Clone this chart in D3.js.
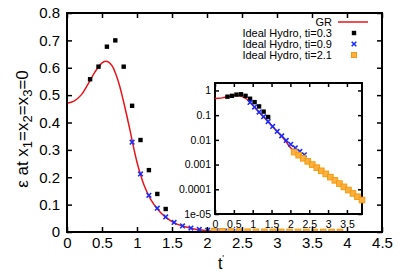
<!DOCTYPE html>
<html>
<head>
<meta charset="utf-8">
<script src="https://cdn.jsdelivr.net/npm/d3@7"></script>
<style>
  body { margin: 0; background: #fff; }
  svg { display: block; font-family: "Liberation Sans", Arial, sans-serif; }
  .frame { fill: none; stroke: #000; stroke-width: 2; }
  .axis path.domain { display: none; }
  .axis line { stroke: #000; stroke-width: 1.5; }
</style>
</head>
<body>
<svg id="chart" width="399" height="279"></svg>
<script>
// GR reference curve
var grT = [0, 0.1, 0.2, 0.3, 0.4, 0.5, 0.55, 0.6, 0.65, 0.7, 0.75, 0.8, 0.85, 0.9, 0.95, 1.0,
  1.05, 1.1, 1.2, 1.3, 1.4, 1.5, 1.6, 1.7, 1.8, 1.9, 2.0, 2.1, 2.2, 2.4, 2.6, 2.8, 3.0,
  3.2, 3.4, 3.6, 3.8, 3.9];
var grE = [0.47, 0.478, 0.50, 0.54, 0.585, 0.618, 0.624, 0.62, 0.605, 0.575, 0.535, 0.485,
  0.43, 0.372, 0.31, 0.255, 0.21, 0.172, 0.117, 0.081, 0.056, 0.038, 0.026, 0.018, 0.0122,
  0.0078, 0.0049, 0.0034, 0.0025, 0.0015, 0.00093, 0.00057, 0.00035, 0.000215, 0.00013,
  0.00008, 0.000049, 0.000038];

// ideal hydro runs
var blackT = [0.33, 0.45, 0.57, 0.69, 0.81, 0.93, 1.05, 1.17, 1.29, 1.41];
var blackE = [0.558, 0.604, 0.677, 0.70, 0.604, 0.461, 0.336, 0.226, 0.139, 0.084];

var blueT = [0.93, 1.05, 1.17, 1.29, 1.41, 1.53, 1.65, 1.77, 1.89, 2.01, 2.13, 2.25, 2.37];
var blueE = [0.328, 0.212, 0.134, 0.087, 0.055, 0.035, 0.022, 0.0145, 0.0095, 0.0066,
  0.0047, 0.0034, 0.0025];

var orangeT = [2.10, 2.22, 2.34, 2.46, 2.58, 2.70, 2.82, 2.94, 3.06, 3.18, 3.30, 3.42,
  3.54, 3.66, 3.78, 3.90];
var orangeE = [3.2e-3, 2.4e-3, 1.8e-3, 1.35e-3, 1.0e-3, 7.5e-4, 5.6e-4, 4.2e-4, 3.1e-4,
  2.3e-4, 1.7e-4, 1.25e-4, 9.3e-5, 6.8e-5, 5.0e-5, 3.7e-5];

var xTicks = [0, 0.5, 1, 1.5, 2, 2.5, 3, 3.5, 4, 4.5];
var yTicks = [0, 0.1, 0.2, 0.3, 0.4, 0.5, 0.6, 0.7, 0.8];
var insetXTicks = [0, 0.5, 1, 1.5, 2, 2.5, 3, 3.5];
var insetYTicks = [1, 0.1, 0.01, 0.001, 0.0001, 0.00001];
var insetYLabels = ['1', '0.1', '0.01', '0.001', '0.0001', '1e-05'];

var legendLabels = ['GR', 'Ideal Hydro, ti=0.3', 'Ideal Hydro, ti=0.9', 'Ideal Hydro, ti=2.1'];

function zip(ts, es) {
  return ts.map(function (t, i) { return { t: t, e: es[i] }; });
}
var gr = zip(grT, grE);
var black = zip(blackT, blackE);
var blue = zip(blueT, blueE);
var orange = zip(orangeT, orangeE);

var svg = d3.select('#chart');
svg.append('rect').attr('width', 399).attr('height', 279).attr('fill', '#fff');

var x = d3.scaleLinear().domain([0, 4.5]).range([67, 382]);
var y = d3.scaleLinear().domain([0, 0.8]).range([232, 13]);

svg.append('clipPath').attr('id', 'main-clip')
  .append('rect').attr('x', 67).attr('y', 13).attr('width', 315).attr('height', 219);

function drawAxes(g, xs, ys, opt) {
  var xr = xs.range(), yr = ys.range();
  g.append('g').attr('class', 'axis').attr('transform', 'translate(0,' + yr[0] + ')')
    .call(d3.axisBottom(xs).tickValues(opt.xTicks).tickSize(-opt.tick).tickPadding(opt.xPad)
      .tickFormat(opt.xFormat))
    .selectAll('text').attr('font-size', opt.font).attr('fill', '#000')
    .attr('font-family', 'Liberation Sans, Arial, sans-serif');
  g.append('g').attr('class', 'axis').attr('transform', 'translate(0,' + yr[1] + ')')
    .call(d3.axisTop(xs).tickValues(opt.xTicks).tickSize(-opt.tick).tickFormat(''));
  g.append('g').attr('class', 'axis').attr('transform', 'translate(' + xr[0] + ',0)')
    .call(d3.axisLeft(ys).tickValues(opt.yTicks).tickSize(-opt.tick).tickPadding(opt.yPad)
      .tickFormat(opt.yFormat))
    .selectAll('text').attr('font-size', opt.font).attr('fill', '#000')
    .attr('font-family', 'Liberation Sans, Arial, sans-serif');
  g.append('g').attr('class', 'axis').attr('transform', 'translate(' + xr[1] + ',0)')
    .call(d3.axisRight(ys).tickValues(opt.yTicks).tickSize(-opt.tick).tickFormat(''));
  g.append('rect').attr('class', 'frame')
    .attr('x', xr[0]).attr('y', yr[1])
    .attr('width', xr[1] - xr[0]).attr('height', yr[0] - yr[1]);
}

function drawSeries(g, xs, ys, curveData) {
  var line = d3.line()
    .x(function (d) { return xs(d.t); })
    .y(function (d) { return ys(d.e); })
    .curve(d3.curveCatmullRom);
  g.append('path').datum(curveData)
    .attr('d', line).attr('fill', 'none').attr('stroke', '#e8141b').attr('stroke-width', 1.5);

  g.selectAll('.pt-black').data(black).enter().append('rect')
    .attr('class', 'pt-black')
    .attr('x', function (d) { return xs(d.t) - 2.2; })
    .attr('y', function (d) { return ys(d.e) - 2.2; })
    .attr('width', 4.4).attr('height', 4.4).attr('fill', '#000');

  g.selectAll('.pt-blue').data(blue).enter().append('path')
    .attr('class', 'pt-blue')
    .attr('d', function (d) {
      var cx = xs(d.t), cy = ys(d.e), r = 2.3;
      return 'M' + (cx - r) + ',' + (cy - r) + 'L' + (cx + r) + ',' + (cy + r) +
        'M' + (cx - r) + ',' + (cy + r) + 'L' + (cx + r) + ',' + (cy - r);
    })
    .attr('stroke', '#1c2dfa').attr('stroke-width', 1.6);

  g.selectAll('.pt-orange').data(orange).enter().append('rect')
    .attr('class', 'pt-orange')
    .attr('x', function (d) { return xs(d.t) - 2.8; })
    .attr('y', function (d) { return ys(d.e) - 2.8; })
    .attr('width', 5.6).attr('height', 5.6)
    .attr('fill', '#fbb040').attr('stroke', '#f59a0c').attr('stroke-width', 1);
}

// main plot
var main = svg.append('g');
drawSeries(main.append('g').attr('clip-path', 'url(#main-clip)'), x, y, gr);
drawAxes(main, x, y, {
  xTicks: xTicks, yTicks: yTicks, tick: 5, font: 15, xPad: 5, yPad: 7,
  xFormat: d3.format(''), yFormat: d3.format('')
});

// axis titles
var ylab = svg.append('text')
  .attr('transform', 'translate(28,129) rotate(-90)')
  .attr('text-anchor', 'middle').attr('font-size', 17).attr('fill', '#000');
ylab.append('tspan').text('\u03b5 at x');
ylab.append('tspan').text('1').attr('font-size', 13).attr('dy', 4);
ylab.append('tspan').text('=x').attr('dy', -4);
ylab.append('tspan').text('2').attr('font-size', 13).attr('dy', 4);
ylab.append('tspan').text('=x').attr('dy', -4);
ylab.append('tspan').text('3').attr('font-size', 13).attr('dy', 4);
ylab.append('tspan').text('=0').attr('dy', -4);

var xlab = svg.append('text').attr('x', 221).attr('y', 269)
  .attr('text-anchor', 'middle').attr('font-size', 16).attr('fill', '#000');
xlab.append('tspan').text('t');
xlab.append('tspan').text("'").attr('font-size', 9).attr('dy', -8);

// legend
var legend = svg.append('g').attr('font-size', 11);
legendLabels.forEach(function (lab, i) {
  var ly = 22 + i * 11;
  legend.append('text').attr('x', 332).attr('y', ly).attr('dy', '0.35em')
    .attr('text-anchor', 'end').attr('fill', '#000').text(lab);
});
legend.append('line').attr('x1', 338).attr('x2', 368).attr('y1', 22).attr('y2', 22)
  .attr('stroke', '#e8141b').attr('stroke-width', 1.5);
legend.append('rect').attr('x', 351.8).attr('y', 30.8).attr('width', 4.4).attr('height', 4.4)
  .attr('fill', '#000');
legend.append('path').attr('d', 'M351.7,41.7L356.3,46.3M351.7,46.3L356.3,41.7')
  .attr('stroke', '#1c2dfa').attr('stroke-width', 1.6);
legend.append('rect').attr('x', 351.5).attr('y', 52.5).attr('width', 5).attr('height', 5)
  .attr('fill', '#fbb040').attr('stroke', '#f59a0c').attr('stroke-width', 1);

// inset (log scale)
var xi = d3.scaleLinear().domain([0, 3.9]).range([215, 362]);
var yi = d3.scaleLog().domain([1e-5, 2]).range([214, 83]);
var inset = svg.append('g');
inset.append('rect').attr('x', 215).attr('y', 83).attr('width', 147).attr('height', 131)
  .attr('fill', '#fff');
drawAxes(inset, xi, yi, {
  xTicks: insetXTicks, yTicks: insetYTicks, tick: 4, font: 10.5, xPad: 7, yPad: 4,
  xFormat: d3.format(''),
  yFormat: function (d, i) { return insetYLabels[i]; }
});
drawSeries(inset, xi, yi, gr);
</script>
</body>
</html>
